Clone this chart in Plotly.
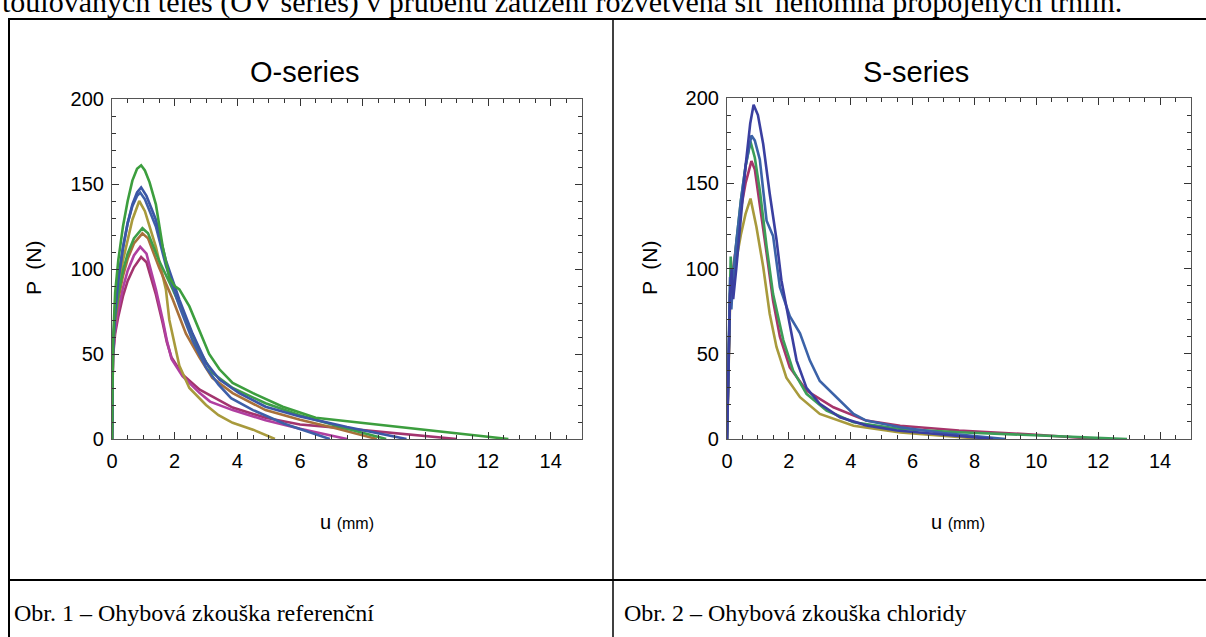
import plotly.graph_objects as go

# ---------------- data ----------------
# O-series curves (u in mm, P in N)
o_green_a_u = [0, 0.03, 0.1, 0.2, 0.35, 0.5, 0.65, 0.8, 0.93, 1.05, 1.2, 1.4, 1.62, 1.83, 2.0, 2.15, 2.47, 2.79, 3.1, 3.43, 3.85, 4.5, 5.45, 6.5, 12.65]
o_green_a_p = [0, 55, 86, 105, 125, 140, 152, 159, 161, 158, 151, 138, 113, 95, 90, 88, 78, 64, 50, 41, 33, 27, 19, 12.5, 0]

o_blue_a_u = [0, 0.03, 0.1, 0.2, 0.35, 0.5, 0.65, 0.8, 0.93, 1.1, 1.4, 1.72, 2.15, 2.57, 3.0, 3.43, 4.06, 4.9, 6.0, 7.5, 9.4]
o_blue_a_p = [0, 50, 75, 93, 112, 127, 138, 145, 148, 143, 129, 105, 82, 62, 45, 35, 27, 19, 13.3, 7, 0]

o_blue_b_u = [0, 0.03, 0.1, 0.2, 0.35, 0.5, 0.65, 0.8, 0.9, 1.05, 1.4, 1.72, 2.15, 2.57, 3.0, 3.4, 3.8, 4.5, 5.5, 6.95]
o_blue_b_p = [0, 52, 78, 95, 113, 127, 137, 143, 145, 141, 125, 102, 78, 58, 42, 32, 24, 17, 9, 0]

o_olive_u = [0, 0.03, 0.1, 0.2, 0.35, 0.5, 0.65, 0.87, 1.05, 1.4, 1.6, 1.72, 1.83, 2.15, 2.47, 3.0, 3.4, 3.85, 4.5, 5.2]
o_olive_p = [0, 50, 72, 88, 105, 118, 129, 140, 134, 113, 98, 88, 70, 43, 30, 20, 14, 9.5, 5.5, 0]

o_green_b_u = [0, 0.03, 0.1, 0.2, 0.35, 0.5, 0.7, 0.97, 1.15, 1.5, 1.94, 2.36, 2.79, 3.2, 3.85, 4.9, 6.0, 7.3, 8.75]
o_green_b_p = [0, 55, 72, 85, 99, 109, 118, 124, 121, 105, 88, 70, 52, 39, 30, 21, 14, 7, 0]

o_brown_u = [0, 0.03, 0.1, 0.2, 0.35, 0.5, 0.7, 0.97, 1.15, 1.5, 1.94, 2.36, 2.79, 3.2, 3.85, 4.9, 6.0, 7.2, 8.45]
o_brown_p = [0, 52, 70, 82, 96, 106, 115, 121, 118, 101, 82, 62, 48, 36, 27, 17, 11.3, 6, 0]

o_magenta_u = [0, 0.03, 0.1, 0.2, 0.35, 0.5, 0.7, 0.9, 1.1, 1.4, 1.62, 1.75, 1.9, 2.25, 2.8, 3.13, 3.85, 4.9, 6.0, 6.5, 7.5]
o_magenta_p = [0, 50, 64, 76, 89, 99, 108, 113, 109, 88, 70, 58, 47, 37, 27, 22, 17, 11, 6, 4, 0]

o_crimson_u = [0, 0.03, 0.1, 0.2, 0.35, 0.5, 0.7, 0.93, 1.1, 1.4, 1.62, 1.75, 1.9, 2.25, 2.8, 3.85, 4.9, 6.0, 7.0, 11.0]
o_crimson_p = [0, 48, 62, 72, 84, 93, 101, 107, 104, 85, 68, 57, 48, 38, 29, 18.5, 12.5, 8.5, 7, 0]

# S-series curves
s_darkblue_u = [0, 0.05, 0.1, 0.15, 0.2, 0.3, 0.45, 0.6, 0.75, 0.86, 1.0, 1.17, 1.38, 1.6, 1.76, 2.03, 2.25, 2.57, 3.0, 3.65, 4.5, 5.5, 7.0, 8.6]
s_darkblue_p = [0, 45, 85, 100, 82, 100, 130, 160, 185, 196, 190, 173, 144, 117, 93, 66, 46, 30, 20.6, 12.7, 8, 5, 2.5, 0]

s_blue_u = [0, 0.06, 0.1, 0.14, 0.2, 0.3, 0.45, 0.6, 0.79, 0.9, 1.06, 1.28, 1.49, 1.71, 2.03, 2.36, 2.68, 3.0, 3.33, 3.65, 4.09, 4.5, 5.6, 7.0, 9.0]
s_blue_p = [0, 55, 95, 76, 95, 115, 140, 160, 178, 175, 164, 128, 119, 89, 72, 62, 46, 34, 28, 22.5, 14.7, 10.8, 6.9, 3.5, 0]

s_green_u = [0, 0.06, 0.12, 0.16, 0.2, 0.3, 0.45, 0.6, 0.76, 0.9, 1.06, 1.28, 1.49, 1.82, 2.14, 2.57, 3.22, 4.09, 5.6, 7.5, 10.0, 12.93]
s_green_p = [0, 65, 107, 90, 95, 115, 140, 160, 174.5, 165, 146, 113, 85, 58, 40, 26.5, 16.7, 9.8, 5.9, 4, 2, 0]

s_crimson_u = [0, 0.05, 0.1, 0.2, 0.3, 0.45, 0.6, 0.79, 0.9, 1.06, 1.28, 1.49, 1.71, 2.03, 2.57, 3.44, 4.5, 5.6, 7.5, 10.0, 12.0]
s_crimson_p = [0, 55, 85, 100, 115, 135, 150, 163, 158, 136, 109, 81, 60, 42, 28.4, 18.6, 10.8, 7.8, 5, 2.5, 0]

s_olive_u = [0, 0.05, 0.1, 0.2, 0.3, 0.45, 0.6, 0.76, 0.95, 1.17, 1.38, 1.6, 1.92, 2.36, 3.0, 4.09, 5.6, 7.0, 8.3]
s_olive_p = [0, 50, 80, 95, 105, 120, 132, 141, 124.5, 101, 73.5, 54, 36, 24.5, 14.7, 7.8, 3.9, 2, 0]

x_tick_vals = [0, 2, 4, 6, 8, 10, 12, 14]
y_tick_vals = [0, 50, 100, 150, 200]

titles = ["O-series", "S-series"]
captions = ["Obr. 1 – Ohybová zkouška referenční", "Obr. 2 – Ohybová zkouška chloridy"]
top_text = "toulovaných těles (OV series) v průběhu zatížení rozvětvená síť nehomná propojených trhlin."

# ---------------- figure ----------------
W, H = 1206, 637
fig = go.Figure()

o_series = [
    (o_crimson_u, o_crimson_p, "#A3346E"),
    (o_magenta_u, o_magenta_p, "#B03FA0"),
    (o_olive_u, o_olive_p, "#A89A3C"),
    (o_brown_u, o_brown_p, "#A8703A"),
    (o_green_b_u, o_green_b_p, "#3E9E48"),
    (o_blue_b_u, o_blue_b_p, "#3E5FA8"),
    (o_blue_a_u, o_blue_a_p, "#3B56A6"),
    (o_green_a_u, o_green_a_p, "#3C9E3E"),
]
s_series = [
    (s_olive_u, s_olive_p, "#A89A3C"),
    (s_crimson_u, s_crimson_p, "#A6346A"),
    (s_green_u, s_green_p, "#3C9E58"),
    (s_blue_u, s_blue_p, "#3B62A8"),
    (s_darkblue_u, s_darkblue_p, "#3A3FA0"),
]

for u, p, c in o_series:
    fig.add_trace(go.Scatter(x=u, y=p, mode="lines", line=dict(color=c, width=2.6),
                             xaxis="x", yaxis="y", showlegend=False, hoverinfo="skip"))
for u, p, c in s_series:
    fig.add_trace(go.Scatter(x=u, y=p, mode="lines", line=dict(color=c, width=2.6),
                             xaxis="x2", yaxis="y2", showlegend=False, hoverinfo="skip"))


def px_x(v):
    return v / W


def px_y(v):
    return 1 - v / H


axis_font = dict(family="Liberation Sans, Arial", size=20, color="black")
common = dict(showgrid=False, zeroline=False, showline=True, linecolor="#555555", linewidth=1.2,
              mirror="allticks", ticks="inside", ticklen=7, tickwidth=1.2, tickcolor="#333333",
              tickfont=axis_font, automargin=False)

xa = dict(range=[0, 15], tickvals=x_tick_vals, ticklabelstandoff=4,
          minor=dict(dtick=0.5, ticks="inside", ticklen=4, tickcolor="#333333", tickwidth=1, showgrid=False),
          **common)
ya = dict(range=[0, 200], tickvals=y_tick_vals, ticklabelstandoff=3,
          minor=dict(dtick=10, ticks="inside", ticklen=4, tickcolor="#333333", tickwidth=1, showgrid=False),
          **common)

fig.update_layout(
    width=W, height=H, autosize=False,
    margin=dict(l=0, r=0, t=0, b=0, pad=0, autoexpand=False),
    paper_bgcolor="white", plot_bgcolor="white",
    xaxis=dict(domain=[px_x(112), px_x(582)], anchor="y", **xa),
    yaxis=dict(domain=[px_y(439), px_y(99)], anchor="x", **ya),
    xaxis2=dict(domain=[px_x(727), px_x(1191)], anchor="y2", **xa),
    yaxis2=dict(domain=[px_y(439), px_y(98)], anchor="x2", **ya),
)

anns = []
# plot titles
for txt, cx in zip(titles, [305, 916]):
    anns.append(dict(text=txt, x=px_x(cx), y=px_y(72), xref="paper", yref="paper",
                     xanchor="center", yanchor="middle", showarrow=False,
                     font=dict(family="Liberation Sans, Arial", size=29, color="black")))
# y axis titles
for cx in [33, 649]:
    anns.append(dict(text="P  (N)", x=px_x(cx), y=px_y(268), xref="paper", yref="paper",
                     xanchor="center", yanchor="middle", showarrow=False, textangle=-90,
                     font=dict(family="Liberation Sans, Arial", size=21, color="black")))
# x axis titles
for cx in [347, 958]:
    anns.append(dict(text="u <span style='font-size:16px'>(mm)</span>", x=px_x(cx), y=px_y(522),
                     xref="paper", yref="paper", xanchor="center", yanchor="middle", showarrow=False,
                     font=dict(family="Liberation Sans, Arial", size=20, color="black")))
# captions
for txt, lx in zip(captions, [12, 622]):
    anns.append(dict(text=txt, x=px_x(lx), y=px_y(613), xref="paper", yref="paper",
                     xanchor="left", yanchor="middle", showarrow=False,
                     font=dict(family="Liberation Serif, Times New Roman", size=24, color="black")))
# top text line (only its lower part is visible at the page top, as in the reference)
anns.append(dict(text=top_text, x=px_x(0), y=px_y(2), xref="paper", yref="paper",
                 xanchor="left", yanchor="middle", showarrow=False,
                 font=dict(family="Liberation Serif, Times New Roman", size=30, color="black")))
fig.update_layout(annotations=anns)

# table borders
line_style = dict(color="black", width=2)
shapes = [
    dict(type="line", xref="paper", yref="paper", x0=px_x(8), x1=1, y0=px_y(19), y1=px_y(19), line=line_style),
    dict(type="line", xref="paper", yref="paper", x0=px_x(8), x1=1, y0=px_y(580), y1=px_y(580), line=line_style),
    dict(type="line", xref="paper", yref="paper", x0=px_x(9), x1=px_x(9), y0=px_y(19), y1=0, line=line_style),
    dict(type="line", xref="paper", yref="paper", x0=px_x(613), x1=px_x(613), y0=px_y(19), y1=0,
         line=dict(color="black", width=1.5)),
]
fig.update_layout(shapes=shapes)

fig.write_html("out.html")
